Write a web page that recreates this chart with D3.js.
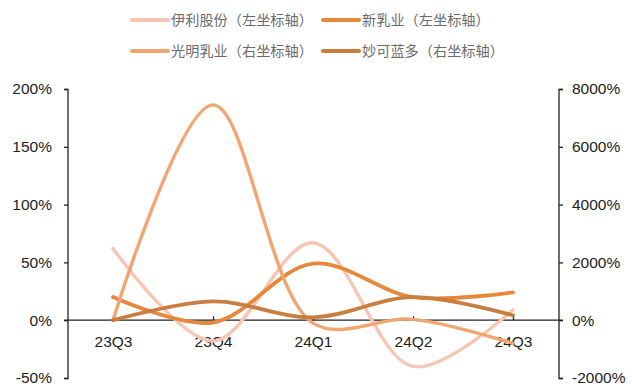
<!DOCTYPE html>
<html><head><meta charset="utf-8">
<script src="https://cdn.jsdelivr.net/npm/d3@7"></script>
<style>body{margin:0;background:#fff}svg{display:block}</style>
</head><body>
<svg id="c" width="632" height="387"></svg>
<script>
const categories = ["23Q3","23Q4","24Q1","24Q2","24Q3"];
const yili = [62, -18, 67, -40, 9];        // 伊利股份 left axis
const xinru = [20, -2, 49, 20, 24];        // 新乳业 left axis
const guangming = [0, 7450, -100, 30, -800]; // 光明乳业 right axis
const miaoke = [0, 650, 100, 800, 170];    // 妙可蓝多 right axis
const leftTicks = [-50, 0, 50, 100, 150, 200];
const rightTicks = [-2000, 0, 2000, 4000, 6000, 8000];

const series = [
  {name:"伊利股份（左坐标轴）", values:yili, axis:"L", color:"#F6C6B2", w:3.4},
  {name:"新乳业（左坐标轴）", values:xinru, axis:"L", color:"#E6883C", w:3.8},
  {name:"光明乳业（右坐标轴）", values:guangming, axis:"R", color:"#F2A571", w:3.4},
  {name:"妙可蓝多（右坐标轴）", values:miaoke, axis:"R", color:"#C97D3E", w:3.8}
];

const svg = d3.select("#c");
const x = d3.scalePoint().domain(categories).range([113, 513]);
const yL = d3.scaleLinear().domain([-50, 200]).range([378, 89]);
const yR = d3.scaleLinear().domain([-2000, 8000]).range([378, 89]);
const font = "'Liberation Sans', Arial, sans-serif";

// axes
const gL = svg.append("g").attr("transform","translate(64,0)")
  .call(d3.axisLeft(yL).tickValues(leftTicks).tickSize(-4).tickPadding(12).tickFormat(d=>d+"%"));
const gR = svg.append("g").attr("transform","translate(563,0)")
  .call(d3.axisRight(yR).tickValues(rightTicks).tickSize(-4).tickPadding(9).tickFormat(d=>d+"%"));
[gL,gR].forEach(g=>{
  g.select(".domain").attr("stroke","#222").attr("stroke-width",1.3);
  g.selectAll(".tick line").attr("stroke","#222").attr("stroke-width",1.3);
  g.selectAll("text").attr("font-family",font).attr("font-size",15.5).attr("fill","#222");
});
gL.select(".domain").attr("d","M-4,378.5H0V89.5H-4").attr("transform","translate(4,0)");
gR.select(".domain").attr("d","M4,378.5H0V89.5H4").attr("transform","translate(-4,0)");

// x axis at zero
const gX = svg.append("g").attr("transform","translate(0,"+yL(0)+")")
  .call(d3.axisBottom(x).tickSize(-4).tickPadding(16));
gX.select(".domain").attr("d","M64,0H563").attr("stroke","#222").attr("stroke-width",1.3);
gX.selectAll(".tick line").attr("stroke","#222").attr("stroke-width",1.3);
gX.selectAll("text").attr("font-family",font).attr("font-size",15.5).attr("fill","#222");

// lines
const curve = d3.curveCatmullRom.alpha(0.5);
series.forEach(s=>{
  const y = s.axis==="L" ? yL : yR;
  const line = d3.line().x((d,i)=>x(categories[i])).y(d=>y(d)).curve(curve);
  svg.append("path").datum(s.values).attr("d",line)
    .attr("fill","none").attr("stroke",s.color).attr("stroke-width",s.w)
    .attr("stroke-linecap","round");
});

// legend
const legPos = [[132,20],[323,20],[132,51],[323,51]];
series.forEach((s,i)=>{
  const [lx,ly] = legPos[i];
  const g = svg.append("g").attr("transform",`translate(${lx},${ly})`);
  g.append("line").attr("x1",0).attr("x2",36).attr("y1",0).attr("y2",0)
    .attr("stroke",s.color).attr("stroke-width",4).attr("stroke-linecap","round");
  g.append("text").attr("x",39).attr("y",0).attr("dy","0.36em")
    .attr("font-family","'Noto Sans CJK SC', sans-serif").attr("font-size",14.2)
    .attr("fill","#6b6b6b").text(s.name);
});
</script>
</body></html>
